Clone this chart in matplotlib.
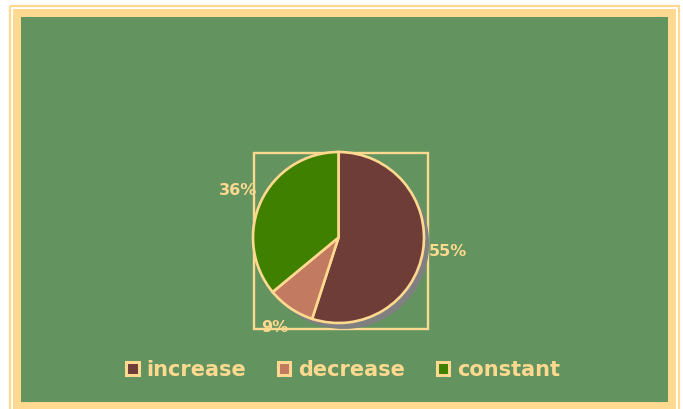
import matplotlib
matplotlib.use("Agg")
import matplotlib.pyplot as plt
from matplotlib.patches import Rectangle, Patch

categories = ["increase", "decrease", "constant"]
shares = [55, 9, 36]
pct_labels = ["55%", "9%", "36%"]
slice_colors = ["#6E3D38", "#C27B60", "#408000"]

W, H = 683, 409
BG_GREEN = "#639460"
CREAM = "#FFD98F"

fig = plt.figure(figsize=(W / 100, H / 100), dpi=100, facecolor="white")

# pixel-space layer for the frame and the box around the pie
bg = fig.add_axes([0, 0, 1, 1], zorder=0)
bg.set_xlim(0, W)
bg.set_ylim(H, 0)
bg.axis("off")
bg.add_patch(Rectangle((10, 6), 669, 420, fill=False, ec=CREAM, lw=1.6))
bg.add_patch(Rectangle((12.5, 9), 663.5, 420, fc=CREAM, ec="none"))
bg.add_patch(Rectangle((21, 17), 647, 385, fc=BG_GREEN, ec="none"))
bg.add_patch(Rectangle((254, 152.5), 174, 176, fill=False, ec=CREAM, lw=1.7))

# pie axes, centred on the pie in pixel space
cx, cy, r = 338.5, 237.5, 85.5
half = 1.2 * r
ax = fig.add_axes([(cx - half) / W, (H - cy - half) / H, 2 * half / W, 2 * half / H], zorder=1)
ax.axis("off")

# drop shadow
ax.pie(shares, colors=["#808080"] * len(shares), startangle=90, counterclock=False,
       center=(0.06, -0.07), radius=1, wedgeprops=dict(lw=0))

wedges, texts = ax.pie(shares, colors=slice_colors, startangle=90, counterclock=False,
                       radius=1, labels=pct_labels, labeldistance=1.07,
                       wedgeprops=dict(edgecolor=CREAM, linewidth=1.9),
                       textprops=dict(color=CREAM, fontsize=11.5, fontweight="bold"))
texts[1].set_position((-0.75, -1.05))
texts[1].set_ha("center")
texts[1].set_va("center")
x36, y36 = texts[2].get_position()
texts[2].set_position((x36 + 0.02, y36 + 0.09))
ax.set_xlim(-1.2, 1.2)
ax.set_ylim(-1.2, 1.2)
ax.set_aspect("auto")

handles = [Patch(facecolor=c, edgecolor=CREAM, linewidth=2.2) for c in slice_colors]
leg = fig.legend(handles, categories, loc="center", bbox_to_anchor=(0.502, 1 - 370 / H),
                 ncol=3, frameon=False, fontsize=15, handlelength=0.6, handleheight=0.6,
                 handletextpad=0.35, columnspacing=1.55, borderpad=0, borderaxespad=0)
for t in leg.get_texts():
    t.set_color(CREAM)
    t.set_fontweight("bold")

fig.savefig("out.png", dpi=100, facecolor="white")
